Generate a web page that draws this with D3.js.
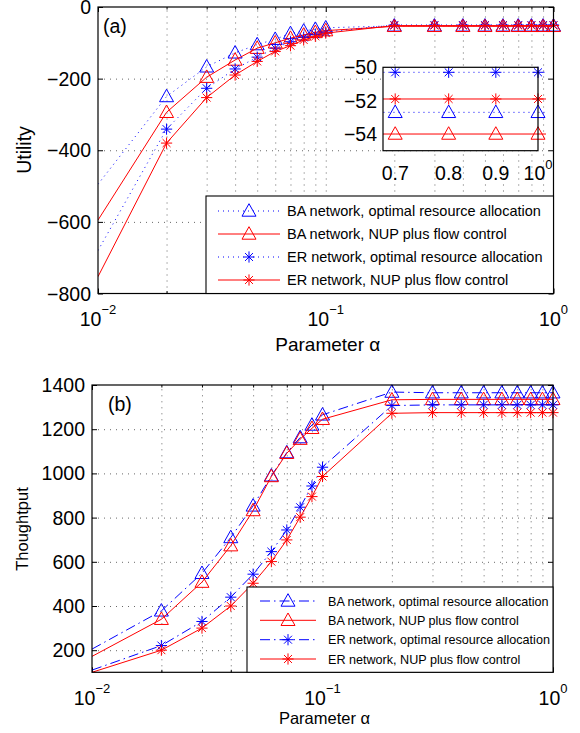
<!DOCTYPE html>
<html>
<head>
<meta charset="utf-8">
<script src="https://cdn.jsdelivr.net/npm/d3@7"></script>
<style>
  body { margin: 0; background: #fff; }
  svg { font-family: "Liberation Sans", Arial, Helvetica, sans-serif; }
  .grid line { stroke: #000; stroke-width: 0.6; stroke-dasharray: 1, 5; }
  .grid path, .ticks path { display: none; }
  .ticks line { stroke: #000; stroke-width: 1; }
</style>
</head>
<body>
<div id="chart"></div>
<script>
// parameter alpha (x values, shared by both panels)
const alpha = [0.01, 0.02, 0.03, 0.04, 0.05, 0.06, 0.07, 0.08, 0.09, 0.1,
               0.2, 0.3, 0.4, 0.5, 0.6, 0.7, 0.8, 0.9, 1.0];

// panel (a): utility
const utilBAopt = [-495, -250, -167, -128, -105, -90, -74, -67, -62, -58,
                   -52.7, -52.7, -52.7, -52.7, -52.7, -52.7, -52.7, -52.7, -52.7];
const utilBAnup = [-595, -294, -196, -148, -115, -100, -87, -78, -71, -66,
                   -54, -54, -54, -54, -54, -54, -54, -54, -54];
const utilERopt = [-680, -341, -227, -173, -140, -115, -97, -85, -76, -70,
                   -50.3, -50.3, -50.3, -50.3, -50.3, -50.3, -50.3, -50.3, -50.3];
const utilERnup = [-753, -380, -253, -190, -152, -124, -108, -92, -82, -73,
                   -51.9, -51.9, -51.9, -51.9, -51.9, -51.9, -51.9, -51.9, -51.9];
const utilTicks = [-800, -600, -400, -200, 0];
const insetXTicks = [0.7, 0.8, 0.9, 1.0];
const insetXLabels = ["0.7", "0.8", "0.9", "10^0"];
const insetYTicks = [-54, -52, -50];

// panel (b): throughput
const thrBAopt = [205, 378, 548, 710, 853, 989, 1094, 1162, 1219, 1265,
                  1368, 1365, 1365, 1365, 1365, 1365, 1365, 1365, 1365];
const thrBAnup = [172, 340, 508, 673, 832, 986, 1091, 1155, 1204, 1245,
                  1333, 1335, 1335, 1335, 1335, 1335, 1335, 1335, 1335];
const thrERopt = [110, 221, 330, 440, 544, 646, 744, 847, 943, 1028,
                  1307, 1310, 1310, 1310, 1310, 1310, 1310, 1310, 1310];
const thrERnup = [100, 200, 300, 400, 503, 601, 699, 802, 895, 986,
                  1272, 1275, 1275, 1275, 1275, 1275, 1275, 1275, 1275];
const thrTicks = [200, 400, 600, 800, 1000, 1200, 1400];

const legendNames = ["BA network, optimal resource allocation",
                     "BA network, NUP plus flow control",
                     "ER network, optimal resource allocation",
                     "ER network, NUP plus flow control"];

const svg = d3.select("#chart").append("svg")
    .attr("width", 580).attr("height", 733);

function starPath(r) {
    const d = r * 0.707;
    return `M${-r},0H${r}M0,${-r}V${r}M${-d},${-d}L${d},${d}M${-d},${d}L${d},${-d}`;
}
const triPath = "M0,-7.3L7,5.2L-7,5.2Z";

function drawMarker(sel, kind, color) {
    sel.attr("d", kind === "tri" ? triPath : starPath(5.6))
        .attr("fill", "none")
        .attr("stroke", color)
        .attr("stroke-width", 1);
}

function minusSign(v) { return String(v).replace("-", "\u2212"); }

let clipId = 0;
function addClip(x0, y0, w, h) {
    const id = "clip" + (clipId++);
    svg.append("clipPath").attr("id", id)
        .append("rect").attr("x", x0).attr("y", y0).attr("width", w).attr("height", h);
    return `url(#${id})`;
}

function drawPanel(p) {
    const w = p.right - p.left, h = p.bottom - p.top;
    const x = d3.scaleLog().domain([0.01, 1]).range([p.left, p.right]);
    const y = d3.scaleLinear().domain(p.yDomain).range([p.bottom, p.top]);
    const xAll = x.ticks();
    const xMajor = [0.01, 0.1, 1];
    const xMinor = xAll.filter(v => !xMajor.includes(v));
    const g = svg.append("g");

    // grid
    g.append("g").attr("class", "grid")
        .attr("transform", `translate(0,${p.bottom})`)
        .call(d3.axisBottom(x).tickValues(xAll.slice(1, -1)).tickSize(-h).tickFormat(""));
    g.append("g").attr("class", "grid")
        .attr("transform", `translate(${p.left},0)`)
        .call(d3.axisLeft(y).tickValues(p.yTicks.filter(v => y(v) > p.top + 1 && y(v) < p.bottom - 1))
            .tickSize(-w).tickFormat(""));

    // inward ticks on all sides
    function ticks(axis, tx, ty, vals, size) {
        g.append("g").attr("class", "ticks")
            .attr("transform", `translate(${tx},${ty})`)
            .call(axis.tickValues(vals).tickSize(size).tickFormat(""));
    }
    ticks(d3.axisBottom(x), 0, p.bottom, xMajor, -5);
    ticks(d3.axisBottom(x), 0, p.bottom, xMinor, -2.5);
    ticks(d3.axisTop(x), 0, p.top, xMajor, -5);
    ticks(d3.axisTop(x), 0, p.top, xMinor, -2.5);
    ticks(d3.axisLeft(y), p.left, 0, p.yTicks, -5);
    ticks(d3.axisRight(y), p.right, 0, p.yTicks, -5);

    // series
    const clip = addClip(p.left, p.top, w, h);
    const line = d3.line().x(d => x(d[0])).y(d => y(d[1]));
    p.series.forEach(s => {
        const pts = alpha.map((a, i) => [a, s.values[i]]);
        g.append("path").datum(pts)
            .attr("d", line)
            .attr("clip-path", clip)
            .attr("fill", "none")
            .attr("stroke", s.color)
            .attr("stroke-width", 1)
            .attr("stroke-dasharray", s.dash);
        g.selectAll(null).data(pts.slice(1)).enter().append("path")
            .attr("transform", d => `translate(${x(d[0])},${y(d[1])})`)
            .call(drawMarker, s.mark, s.color);
    });

    // frame
    g.append("rect").attr("x", p.left).attr("y", p.top)
        .attr("width", w).attr("height", h)
        .attr("fill", "none").attr("stroke", "#000").attr("stroke-width", 1.2);

    // y tick labels
    g.selectAll(null).data(p.yTicks.filter(v => v >= p.yDomain[0])).enter().append("text")
        .attr("x", p.left - 7).attr("y", d => y(d))
        .attr("dy", "0.36em")
        .attr("text-anchor", "end")
        .attr("font-size", 19.5)
        .text(d => minusSign(d));

    // x tick labels 10^k
    const xl = g.selectAll(null).data(xMajor).enter().append("text")
        .attr("x", d => x(d)).attr("y", p.bottom + 32.5)
        .attr("text-anchor", "middle")
        .attr("font-size", 19.5);
    xl.append("tspan").text("10");
    xl.append("tspan").attr("dy", -12).attr("font-size", 13)
        .text(d => minusSign(Math.round(Math.log10(d))));

    // axis titles
    g.append("text").attr("x", (p.left + p.right) / 2 + 2).attr("y", p.xTitleY)
        .attr("text-anchor", "middle").attr("font-size", p.xTitleSize)
        .text("Parameter \u03b1");
    g.append("text")
        .attr("transform", `translate(${p.yTitleX},${p.yTitleMid}) rotate(-90)`)
        .attr("text-anchor", "middle").attr("font-size", p.yTitleSize)
        .text(p.yTitle);

    g.append("text").attr("x", p.left + p.tagDx).attr("y", p.top + 26)
        .attr("font-size", 19.5).text(p.tag);

    return { x, y, g };
}

function drawLegend(L, series) {
    const g = svg.append("g");
    g.append("rect").attr("x", L.x0).attr("y", L.y0)
        .attr("width", L.x1 - L.x0).attr("height", L.y1 - L.y0)
        .attr("fill", "#fff").attr("stroke", "#000").attr("stroke-width", 1.1);
    series.forEach((s, i) => {
        const yy = L.rows[i];
        g.append("line").attr("x1", L.s0).attr("x2", L.s1)
            .attr("y1", yy).attr("y2", yy)
            .attr("stroke", s.color).attr("stroke-width", 1)
            .attr("stroke-dasharray", s.dash);
        g.append("path").attr("transform", `translate(${L.m},${yy})`)
            .call(drawMarker, s.mark, s.color);
        g.append("text").attr("x", L.t).attr("y", yy).attr("dy", "0.36em")
            .attr("font-size", L.fs).text(legendNames[i]);
    });
}

// ---------- panel (a)
const seriesA = [
    { values: utilBAopt, color: "#0000ff", dash: "1,4", mark: "tri" },
    { values: utilBAnup, color: "#ff0000", dash: null, mark: "tri" },
    { values: utilERopt, color: "#0000ff", dash: "1,4", mark: "star" },
    { values: utilERnup, color: "#ff0000", dash: null, mark: "star" }
];
drawPanel({
    left: 98, right: 553.5, top: 7, bottom: 293.5,
    yDomain: [-800, 0], yTicks: utilTicks, series: seriesA,
    xTitleY: 351, xTitleSize: 19, yTitle: "Utility", yTitleX: 31, yTitleMid: 150, yTitleSize: 19.5,
    tag: "(a)", tagDx: 5
});

// inset of panel (a)
(function () {
    const box = { left: 383, right: 538, top: 67.3, bottom: 150.7 };
    const x = d3.scaleLog().domain([0.679, 1]).range([box.left, box.right]);
    const y = d3.scaleLinear().domain([-55, -50]).range([box.bottom, box.top]);
    const g = svg.append("g");
    g.append("rect").attr("x", box.left).attr("y", box.top)
        .attr("width", box.right - box.left).attr("height", box.bottom - box.top)
        .attr("fill", "#fff");
    const clip = addClip(box.left, box.top, 163, box.bottom - box.top);
    const line = d3.line().x(d => x(d[0])).y(d => y(d[1]));
    seriesA.forEach(s => {
        const pts = alpha.map((a, i) => [a, s.values[i]]).filter(d => d[0] >= 0.6);
        g.append("path").datum(pts.concat([[1.03, pts[pts.length - 1][1]]]))
            .attr("d", line).attr("clip-path", clip)
            .attr("fill", "none").attr("stroke", s.color).attr("stroke-width", 1)
            .attr("stroke-dasharray", s.dash);
        g.selectAll(null).data(pts.filter(d => d[0] >= 0.7)).enter().append("path")
            .attr("transform", d => `translate(${x(d[0])},${y(d[1])})`)
            .call(drawMarker, s.mark, s.color);
    });
    g.append("rect").attr("x", box.left).attr("y", box.top)
        .attr("width", box.right - box.left).attr("height", box.bottom - box.top)
        .attr("fill", "none").attr("stroke", "#000").attr("stroke-width", 1.2);
    g.selectAll(null).data(insetYTicks).enter().append("text")
        .attr("x", box.left - 6).attr("y", d => y(d)).attr("dy", "0.36em")
        .attr("text-anchor", "end").attr("font-size", 19.5)
        .text(d => minusSign(d));
    const xl = g.selectAll(null).data(insetXTicks).enter().append("text")
        .attr("x", d => x(d)).attr("y", 180)
        .attr("text-anchor", "middle").attr("font-size", 19.5);
    xl.append("tspan").text((d, i) => insetXLabels[i].split("^")[0]);
    xl.filter((d, i) => insetXLabels[i].includes("^"))
        .append("tspan").attr("dy", -11).attr("font-size", 13)
        .text((d, i) => "0");
})();

drawLegend({ x0: 206, x1: 553.5, y0: 196, y1: 293.5,
             rows: [211, 234, 257, 280], s0: 218, s1: 280, m: 249, t: 287, fs: 14.5 }, seriesA);

// ---------- panel (b)
const seriesB = [
    { values: thrBAopt, color: "#0000ff", dash: "10,4,1.5,4", mark: "tri" },
    { values: thrBAnup, color: "#ff0000", dash: null, mark: "tri" },
    { values: thrERopt, color: "#0000ff", dash: "10,4,1.5,4", mark: "star" },
    { values: thrERnup, color: "#ff0000", dash: null, mark: "star" }
];
drawPanel({
    left: 92, right: 553, top: 385, bottom: 672.3,
    yDomain: [100, 1400], yTicks: thrTicks, series: seriesB,
    xTitleY: 724, xTitleSize: 16.5, yTitle: "Thoughtput", yTitleX: 28, yTitleMid: 529, yTitleSize: 16.5,
    tag: "(b)", tagDx: 16
});

drawLegend({ x0: 247, x1: 553, y0: 587, y1: 672.3,
             rows: [601, 620.3, 639.7, 659], s0: 260, s1: 316, m: 288, t: 328, fs: 12.6 }, seriesB);
</script>
</body>
</html>
